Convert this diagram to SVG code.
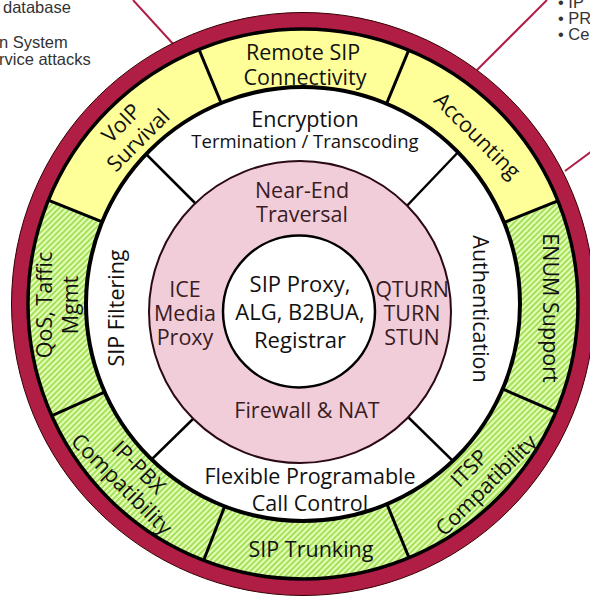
<svg xmlns="http://www.w3.org/2000/svg" width="590" height="599" viewBox="0 0 590 599">
<defs>
<style>
.lbl{font-family:"Open Sans","Noto Sans",sans-serif;font-size:21.5px;fill:#111;text-anchor:middle}
.pk{fill:#3a1c24}
.sm{font-size:18.5px}
.core{font-size:22px}
.side{font-family:"Liberation Sans",Arial,sans-serif;font-size:16.5px;fill:#333}
.div{stroke:#000;stroke-width:3}
.dg{stroke:#000;stroke-width:2.5}
.lnk{stroke:#B01E46;stroke-width:2;fill:none}
</style>
<pattern id="hatch" width="4" height="4" patternUnits="userSpaceOnUse" patternTransform="rotate(45)">
<rect width="4" height="4" fill="#E4FFB8"/>
<rect width="2" height="4" fill="#A6E05A"/>
</pattern>
<clipPath id="bandClip"><circle cx="303" cy="304" r="275"/></clipPath>
<clipPath id="ringClip"><circle cx="303" cy="304" r="217"/></clipPath>
</defs>
<rect width="590" height="599" fill="#fff"/>
<g id="side-text">
<text class="side" x="3" y="13">database</text>
<text class="side" x="-1" y="48">n System</text>
<text class="side" x="-1" y="65">rvice attacks</text>
<text class="side" x="558" y="8">• IP</text>
<text class="side" x="558" y="24">• PR</text>
<text class="side" x="558" y="40">• Ce</text>
</g>
<g id="connectors">
<line class="lnk" x1="133" y1="0" x2="175" y2="46"/>
<line class="lnk" x1="547" y1="0" x2="477" y2="70"/>
<line class="lnk" x1="592" y1="151" x2="565" y2="171"/>
</g>
<g id="outer-ring">
<circle cx="303" cy="304" r="291.5" fill="#B01E46" stroke="#300" stroke-width="1"/>
</g>
<g id="band" clip-path="url(#bandClip)">
<polygon id="voip" fill="#FFFF99" points="304,303 -85.7,146.3 143.3,-85"/>
<polygon id="remote" fill="#FFFF99" points="304,303 143.3,-85 464.7,-85"/>
<polygon id="accounting" fill="#FFFF99" points="304,303 464.7,-85 693.7,146.3"/>
<polygon id="enum" fill="url(#hatch)" points="304,303 693.7,146.3 689.5,469.8"/>
<polygon id="itsp" fill="url(#hatch)" points="304,303 689.5,469.8 464.1,691.3"/>
<polygon id="trunking" fill="url(#hatch)" points="304,303 464.1,691.3 151.4,694.3"/>
<polygon id="ippbx" fill="url(#hatch)" points="304,303 151.4,694.3 -79.4,474.5"/>
<polygon id="qos" fill="url(#hatch)" points="304,303 -79.4,474.5 -85.7,146.3"/>
<line class="div" x1="304" y1="303" x2="689.5" y2="469.8"/>
<line class="div" x1="304" y1="303" x2="464.1" y2="691.3"/>
<line class="div" x1="304" y1="303" x2="151.4" y2="694.3"/>
<line class="div" x1="304" y1="303" x2="-79.4" y2="474.5"/>
<line class="div" x1="304" y1="303" x2="-85.7" y2="146.3"/>
<line class="div" x1="304" y1="303" x2="143.3" y2="-85"/>
<line class="div" x1="304" y1="303" x2="464.7" y2="-85"/>
<line class="div" x1="304" y1="303" x2="693.7" y2="146.3"/>
</g>
<circle cx="303" cy="304" r="275" fill="none" stroke="#000" stroke-width="3.5"/>
<g id="white-ring">
<circle cx="303" cy="304" r="217" fill="#fff"/>
<g clip-path="url(#ringClip)">
<line class="dg" x1="100" y1="108" x2="240" y2="248"/>
<line class="dg" x1="505" y1="103" x2="360" y2="255"/>
<line class="dg" x1="100" y1="510" x2="240" y2="373"/>
<line class="dg" x1="505" y1="512" x2="360" y2="370"/>
</g>
<circle cx="303" cy="304" r="217" fill="none" stroke="#000" stroke-width="4"/>
</g>
<g id="pink-ring">
<circle cx="300" cy="312" r="151" fill="#F1CDD9" stroke="#2B0A14" stroke-width="2"/>
</g>
<g id="core">
<circle cx="299" cy="311.5" r="76" fill="#fff" stroke="#000" stroke-width="2.5"/>
<text class="lbl core"><tspan x="300" y="292">SIP Proxy,</tspan><tspan x="300" y="320">ALG, B2BUA,</tspan><tspan x="300" y="348">Registrar</tspan></text>
</g>
<g id="pink-labels">
<text class="lbl pk"><tspan x="302" y="198">Near-End</tspan><tspan x="302" y="222">Traversal</tspan></text>
<text class="lbl pk"><tspan x="185" y="297">ICE</tspan><tspan x="185" y="321">Media</tspan><tspan x="185" y="345">Proxy</tspan></text>
<text class="lbl pk"><tspan x="412" y="297">QTURN</tspan><tspan x="412" y="321">TURN</tspan><tspan x="412" y="345">STUN</tspan></text>
<text class="lbl pk" x="307" y="418">Firewall &amp; NAT</text>
</g>
<g id="ring-labels">
<text class="lbl" x="305" y="127">Encryption</text>
<text class="lbl sm" x="305" y="148">Termination / Transcoding</text>
<text class="lbl" transform="translate(480,309) rotate(90)" x="0" y="7">Authentication</text>
<text class="lbl" transform="translate(117,308) rotate(-90)" x="0" y="7">SIP Filtering</text>
<text class="lbl"><tspan x="310" y="484">Flexible Programable</tspan><tspan x="310" y="511">Call Control</tspan></text>
</g>
<g id="band-labels">
<text class="lbl"><tspan x="303" y="60">Remote SIP</tspan><tspan x="305" y="85">Connectivity</tspan></text>
<text class="lbl" transform="translate(130,132) rotate(-45)"><tspan x="0" y="-5">VoIP</tspan><tspan x="0" y="19">Survival</tspan></text>
<text class="lbl" transform="translate(477,136) rotate(45)" x="0" y="7">Accounting</text>
<text class="lbl" transform="translate(550,308) rotate(90)" x="0" y="7">ENUM Support</text>
<text class="lbl" transform="translate(65,305) rotate(-90)"><tspan x="0" y="-13">QoS, Taffic</tspan><tspan x="0" y="13">Mgmt</tspan></text>
<text class="lbl" transform="translate(130,476) rotate(45)"><tspan x="0" y="-5">IP-PBX</tspan><tspan x="0" y="19">Compatibility</tspan></text>
<text class="lbl" transform="translate(478,477) rotate(-45)"><tspan x="0" y="-5">ITSP</tspan><tspan x="0" y="19">Compatibility</tspan></text>
<text class="lbl" x="311" y="557">SIP Trunking</text>
</g>
</svg>
